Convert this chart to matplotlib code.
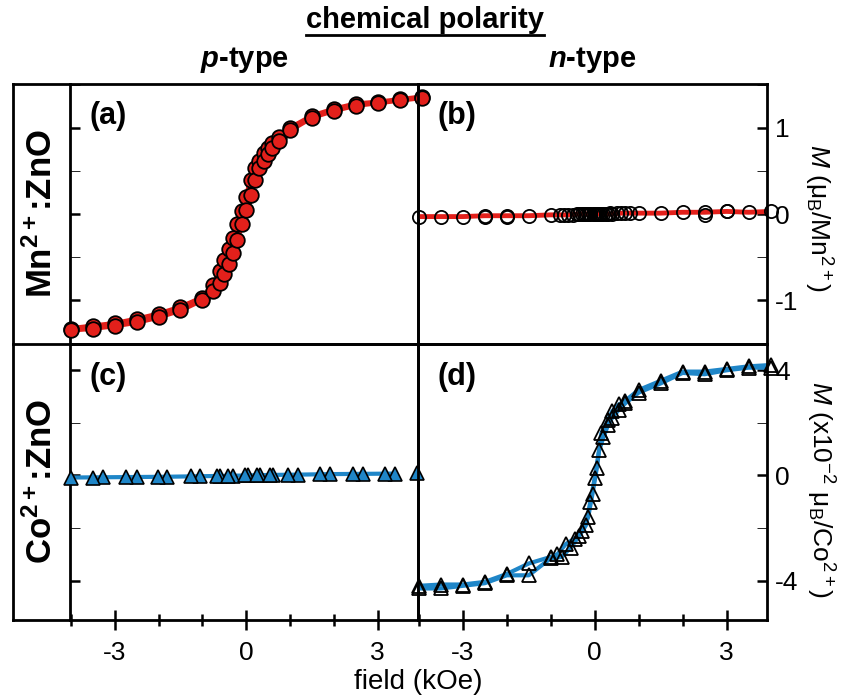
import matplotlib
matplotlib.use("Agg")
import matplotlib.pyplot as plt
from matplotlib import font_manager
from matplotlib.lines import Line2D
from matplotlib.ticker import MultipleLocator, FixedLocator

# ================================================================================================
# Data (field in kOe)
# ================================================================================================
# (a) Mn2+:ZnO, p-type, two sweep branches
mn_p_field = [-4, -3.5, -3, -2.5, -2, -1.5, -1, -0.75, -0.6, -0.5, -0.4, -0.3, -0.2, -0.1,
              0, 0.1, 0.2, 0.3, 0.4, 0.5, 0.6, 0.75, 1, 1.5, 2, 2.5, 3, 3.5, 4]
mn_p_down = [-1.33, -1.30, -1.27, -1.22, -1.16, -1.08, -0.97, -0.82, -0.66, -0.54, -0.41, -0.28,
             -0.12, 0.04, 0.20, 0.40, 0.53, 0.62, 0.71, 0.77, 0.83, 0.90, 1.00, 1.14, 1.22,
             1.28, 1.30, 1.33, 1.36]
mn_p_up = [-1.35, -1.33, -1.30, -1.26, -1.20, -1.12, -1.00, -0.90, -0.80, -0.70, -0.58, -0.45,
           -0.30, -0.12, 0.05, 0.22, 0.40, 0.53, 0.62, 0.70, 0.77, 0.85, 0.97, 1.12, 1.20,
           1.26, 1.29, 1.32, 1.35]

# (b) Mn2+:ZnO, n-type
mn_n_field_1 = [-4, -3.5, -3, -2.5, -2, -1.5, -1, -0.8, -0.6, -0.4, -0.3, -0.2, -0.1, 0,
                0.1, 0.2, 0.3, 0.4, 0.6, 0.8, 1, 1.5, 2, 2.5, 3, 3.5, 4]
mn_n_m_1 = [-0.03, -0.03, -0.03, -0.02, -0.02, -0.02, -0.01, -0.01, -0.01, 0.0, 0.0, 0.0, 0.0,
            0.0, 0.0, 0.0, 0.0, 0.0, 0.01, 0.01, 0.01, 0.01, 0.02, 0.02, 0.03, 0.02, 0.03]
mn_n_field_2 = [-2.5, -2, -0.7, -0.5, -0.35, -0.25, -0.15, -0.05, 0.05, 0.15, 0.25, 0.35,
                0.5, 0.7, 2.5, 3]
mn_n_m_2 = [-0.03, -0.04, -0.01, -0.01, 0.0, 0.0, 0.0, 0.0, 0.0, 0.0, 0.0, 0.01,
            0.01, 0.01, -0.01, 0.04]

# (c) Co2+:ZnO, p-type
co_p_field_1 = [-4, -3.27, -2.5, -1.8, -1.05, -0.59, -0.3, 0.05, 0.32, 0.61, 1.18, 1.91, 2.66, 3.39]
co_p_m_1 = [-0.08, -0.07, -0.06, -0.05, -0.03, -0.02, -0.01, 0.0, 0.01, 0.02, 0.03, 0.05, 0.06, 0.07]
co_p_field_2 = [-3.5, -2.75, -2.02, -1.27, -0.66, -0.41, -0.02, 0.25, 0.55, 0.95, 1.68, 2.43, 3.16, 3.89]
co_p_m_2 = [-0.08, -0.06, -0.05, -0.04, -0.02, -0.01, 0.0, 0.01, 0.02, 0.03, 0.04, 0.06, 0.07, 0.08]

# (d) Co2+:ZnO, n-type (x10^-2)
co_n_field_up = [-4, -3.5, -3, -2.5, -2, -1.5, -1, -0.75, -0.55, -0.35, -0.2, -0.1, 0, 0.1,
                 0.2, 0.3, 0.4, 0.55, 0.7, 1, 1.5, 2, 2.5, 3, 3.5, 4]
co_n_m_up = [-4.3, -4.3, -4.2, -4.1, -3.8, -3.8, -3.15, -3.1, -2.75, -2.3, -1.9, -1.0, -0.1,
             0.95, 1.45, 1.9, 2.2, 2.5, 2.75, 3.15, 3.5, 3.9, 3.85, 4.0, 4.1, 4.1]
co_n_field_down = [4, 3.5, 3, 2.5, 2, 1.5, 1, 0.7, 0.55, 0.4, 0.3, 0.15, 0.05, -0.05, -0.15,
                   -0.3, -0.45, -0.65, -0.85, -1, -1.5, -2, -2.5, -3, -3.5, -4]
co_n_m_down = [4.2, 4.15, 4.05, 3.95, 3.95, 3.6, 3.25, 2.85, 2.7, 2.45, 2.1, 1.6, 0.3, -0.7,
               -1.6, -2.1, -2.4, -2.6, -3.0, -3.1, -3.35, -3.75, -4.05, -4.15, -4.15, -4.2]

x_ticks = [-3, 0, 3]
top_ticks = [-1, 0, 1]
bottom_ticks = [-4, 0, 4]

# ================================================================================================
# Style
# ================================================================================================
names = {f.name for f in font_manager.fontManager.ttflist}
fam = "Liberation Sans Narrow" if "Liberation Sans Narrow" in names else "Liberation Sans"
plt.rcParams.update({
    "font.family": [fam, "DejaVu Sans"],
    "axes.unicode_minus": False,
    "mathtext.fontset": "custom",
    "mathtext.rm": fam,
    "mathtext.it": fam + ":italic",
    "mathtext.bf": fam + ":bold",
    "mathtext.cal": fam + ":bold:italic",
})

RED = "#e3201b"
BLUE = "#1f86c8"
FS = 19

fig = plt.figure(figsize=(8.6, 6.95), dpi=100)

x0, xm, x1 = 70 / 860, 418 / 860, 767 / 860
ytop, ymid, ybot = 1 - 84 / 695, 1 - 344 / 695, 1 - 620 / 695

ax_a = fig.add_axes([x0, ymid, xm - x0, ytop - ymid])
ax_b = fig.add_axes([xm, ymid, x1 - xm, ytop - ymid])
ax_c = fig.add_axes([x0, ybot, xm - x0, ymid - ybot])
ax_d = fig.add_axes([xm, ybot, x1 - xm, ymid - ybot])

for ax in (ax_a, ax_b, ax_c, ax_d):
    ax.patch.set_alpha(0)
    ax.set_xlim(-4.02, 3.92)
    for s in ax.spines.values():
        s.set_linewidth(2.0)
    ax.tick_params(width=1.8, labelsize=FS)

for ax in (ax_a, ax_b):
    ax.set_ylim(-1.51, 1.51)
    ax.yaxis.set_major_locator(FixedLocator(top_ticks))
    ax.yaxis.set_minor_locator(MultipleLocator(0.5))
for ax in (ax_c, ax_d):
    ax.set_ylim(-5.5, 5.0)
    ax.yaxis.set_major_locator(FixedLocator(bottom_ticks))
    ax.yaxis.set_minor_locator(MultipleLocator(2))

for ax in (ax_a, ax_b, ax_c, ax_d):
    ax.xaxis.set_major_locator(FixedLocator(x_ticks))
    ax.xaxis.set_minor_locator(MultipleLocator(1))

# left panels: inward ticks on left spine, no labels
for ax in (ax_a, ax_c):
    ax.tick_params(axis="y", which="both", direction="in", left=True, right=False,
                   labelleft=False, length=7)
# right panels: inward ticks on right spine, labels on right
for ax in (ax_b, ax_d):
    ax.tick_params(axis="y", which="both", direction="in", left=False, right=True,
                   labelleft=False, labelright=True, length=7, pad=6)
# x ticks only at the bottom row
for ax in (ax_a, ax_b):
    ax.tick_params(axis="x", which="both", bottom=False, labelbottom=False)
for ax in (ax_c, ax_d):
    ax.tick_params(axis="x", which="major", direction="inout", length=14, pad=8)
    ax.tick_params(axis="x", which="minor", direction="inout", length=9, width=1.8)

# ================================================================================================
# Plot the data
# ================================================================================================
ax_a.plot(mn_p_field, mn_p_down, color=RED, lw=3.5, zorder=2)
ax_a.plot(mn_p_field, mn_p_up, color=RED, lw=3.5, zorder=2)
for m in (mn_p_down, mn_p_up):
    ax_a.plot(mn_p_field, m, ls="none", marker="o", ms=10.5, mfc=RED, mec="black",
              mew=1.3, clip_on=False, zorder=3)

ax_b.plot(mn_n_field_1, mn_n_m_1, color=RED, lw=3.5, zorder=2)
ax_b.plot(mn_n_field_1, mn_n_m_1, ls="none", marker="o", ms=9.5, mfc="none", mec="black",
          mew=1.3, clip_on=False, zorder=3)
ax_b.plot(mn_n_field_2, mn_n_m_2, ls="none", marker="o", ms=9.5, mfc="none", mec="black",
          mew=1.3, clip_on=False, zorder=3)

ax_c.plot(co_p_field_1, co_p_m_1, color=BLUE, lw=3, zorder=2)
for f, m in ((co_p_field_1, co_p_m_1), (co_p_field_2, co_p_m_2)):
    ax_c.plot(f, m, ls="none", marker="^", ms=10, mfc=BLUE, mec="black", mew=1.2,
              clip_on=False, zorder=3)

ax_d.plot(co_n_field_up, co_n_m_up, color=BLUE, lw=3, zorder=2)
ax_d.plot(co_n_field_down, co_n_m_down, color=BLUE, lw=3, zorder=2)
for f, m in ((co_n_field_up, co_n_m_up), (co_n_field_down, co_n_m_down)):
    ax_d.plot(f, m, ls="none", marker="^", ms=10, mfc="none", mec="black", mew=1.3,
              clip_on=False, zorder=3)

# panel letters
for ax, lab in ((ax_a, "(a)"), (ax_b, "(b)"), (ax_c, "(c)"), (ax_d, "(d)")):
    ax.text(0.055, 0.935, lab, transform=ax.transAxes, fontsize=FS + 3, fontweight="bold",
            ha="left", va="top")

# ================================================================================================
# Labels and frame
# ================================================================================================
xl = 13 / 860
for y in (ytop, ymid, ybot):
    fig.add_artist(Line2D([xl, x0], [y, y], color="black", lw=2.0))
fig.add_artist(Line2D([xl, xl], [ybot, ytop], color="black", lw=2.0))

fig.text((xl + x0) / 2, (ytop + ymid) / 2, r"Mn$^{\mathbf{2+}}$:ZnO", rotation=90,
         fontsize=FS + 6, fontweight="bold", ha="center", va="center")
fig.text((xl + x0) / 2, (ymid + ybot) / 2, r"Co$^{\mathbf{2+}}$:ZnO", rotation=90,
         fontsize=FS + 6, fontweight="bold", ha="center", va="center")

fig.text(818 / 860, (ytop + ymid) / 2 - 0.005, r"$\it{M}$ (μ$_\mathrm{B}$/Mn$^{2+}$)",
         rotation=-90, fontsize=FS, ha="center", va="center")
fig.text(820 / 860, (ymid + ybot) / 2 - 0.01, r"$\it{M}$ (x10$^{-2}$ μ$_\mathrm{B}$/Co$^{2+}$)",
         rotation=-90, fontsize=FS, ha="center", va="center")

fig.text(xm, 1 - 682 / 695, "field (kOe)", fontsize=FS + 1, ha="center", va="center")

title = fig.text(425 / 860, 1 - 20 / 695, "chemical polarity", fontsize=FS + 2, fontweight="bold",
                 ha="center", va="center")
fig.text((x0 + xm) / 2, 1 - 60 / 695, r"$\mathcal{p}$-type", fontsize=FS + 2,
         fontweight="bold", ha="center", va="center")
fig.text((xm + x1) / 2, 1 - 60 / 695, r"$\mathcal{n}$-type", fontsize=FS + 2,
         fontweight="bold", ha="center", va="center")

# underline for the title
fig.canvas.draw()
bb = title.get_window_extent().transformed(fig.transFigure.inverted())
fig.add_artist(Line2D([bb.x0, bb.x1], [bb.y0 - 0.002, bb.y0 - 0.002], color="black", lw=2.0))

fig.savefig("out.png", dpi=100)
